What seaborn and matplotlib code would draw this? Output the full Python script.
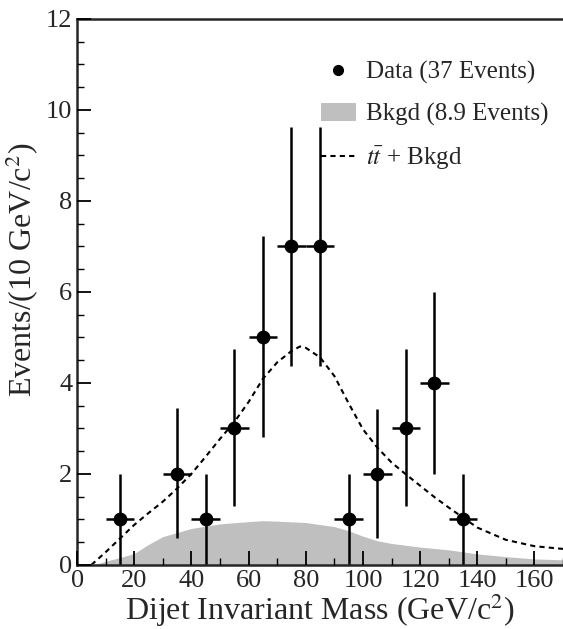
import numpy as np
import matplotlib.pyplot as plt
import seaborn as sns
from matplotlib.lines import Line2D
from matplotlib.patches import Patch

# data points (bin centres, counts, error bar ends)
mass = [15, 35, 45, 55, 65, 75, 85, 95, 105, 115, 125, 135]
events = [1, 2, 1, 3, 5, 7, 7, 1, 2, 3, 4, 1]
err_hi = [2.0, 3.45, 2.0, 4.75, 7.23, 9.63, 9.63, 2.0, 3.43, 4.75, 6.0, 2.0]
err_lo = [0.0, 0.6, 0.0, 1.3, 2.8, 4.37, 4.37, 0.0, 0.6, 1.3, 2.0, 0.0]

# background shape
bkg_x = [5, 7, 10, 15, 20, 25, 30, 40, 50, 60, 65, 70, 80, 90, 95, 100, 105, 110, 120, 130, 140, 150, 160, 170]
bkg_y = [0.0, 0.02, 0.08, 0.16, 0.25, 0.45, 0.62, 0.8, 0.9, 0.95, 0.97, 0.96, 0.93, 0.84, 0.75, 0.63, 0.53, 0.47, 0.39, 0.33, 0.24, 0.18, 0.13, 0.11]

# ttbar + background curve
sig_x = [5, 10, 15, 20, 25, 30, 35, 40, 45, 50, 55, 60, 65, 70, 75, 78, 80, 85, 90, 95, 100, 105, 110, 115, 120, 125, 130, 135, 140, 150, 160, 170]
sig_y = [0.0, 0.28, 0.58, 0.88, 1.14, 1.39, 1.68, 2.0, 2.38, 2.77, 3.14, 3.58, 4.09, 4.45, 4.7, 4.8, 4.77, 4.56, 4.15, 3.55, 2.98, 2.58, 2.25, 1.99, 1.74, 1.49, 1.26, 1.04, 0.82, 0.55, 0.41, 0.35]

sns.set_style("ticks")
plt.rcParams['font.family'] = ['Liberation Serif', 'DejaVu Serif']
plt.rcParams['mathtext.fontset'] = 'stix'

fig = plt.figure(figsize=(5.63, 6.29), dpi=100)
ax = fig.add_axes([0.137, 0.102, 0.863, 0.868])
ax.set_axisbelow(False)

# background fill
ax.fill_between(bkg_x, 0, bkg_y, color='#bfbfbf', linewidth=0, zorder=0.5)

# dashed expectation
sns.lineplot(x=sig_x, y=sig_y, ax=ax, color='black', linestyle=(0, (2.5, 2)), linewidth=1.5)

# data with error bars
m = np.array(mass)
e = np.array(events)
yerr = [e - np.array(err_lo), np.array(err_hi) - e]
ax.errorbar(m, e, yerr=yerr, xerr=5, fmt='none', ecolor='black', elinewidth=1.8, capsize=0)
sns.scatterplot(x=mass, y=events, ax=ax, color='black', s=85, edgecolor='black', zorder=5)

ax.set_xlim(0, 170)
ax.set_ylim(0, 12)
ax.set_xticks(np.arange(0, 170, 20))
ax.set_xticks(np.arange(0, 171, 10), minor=True)
ax.set_yticks(np.arange(0, 13, 2))
ax.set_yticks(np.arange(0, 12.1, 0.5), minor=True)
ax.tick_params(which='both', direction='in', labelsize=19, color='black',
               left=True, bottom=True, top=False, right=False)
ax.tick_params(which='major', length=10, width=1.3)
ax.tick_params(which='minor', length=5, width=1.0)
ax.spines['right'].set_visible(False)
for s in ['left', 'bottom', 'top']:
    ax.spines[s].set_linewidth(1.8)

ax.set_xlabel(r'Dijet Invariant Mass (GeV/c$^2$)', fontsize=23, labelpad=0)
ax.set_ylabel(r'Events/(10 GeV/c$^2$)', fontsize=23)
ax.yaxis.set_label_coords(-0.074, 0.54)

handles = [
    Line2D([], [], marker='o', color='black', linestyle='none', markersize=7),
    Patch(facecolor='#bfbfbf', edgecolor='none'),
    Line2D([], [], color='black', linestyle=(0, (2.5, 2)), linewidth=1.5),
]
labels = ['Data (37 Events)', 'Bkgd (8.9 Events)', r'$t\bar{t}$ + Bkgd']
ax.legend(handles, labels, loc='upper right', frameon=False, fontsize=18,
          handlelength=1.4, handletextpad=0.4, labelspacing=0.75,
          bbox_to_anchor=(1.0, 0.95), borderaxespad=0.2)

plt.savefig('out.png', dpi=100)
